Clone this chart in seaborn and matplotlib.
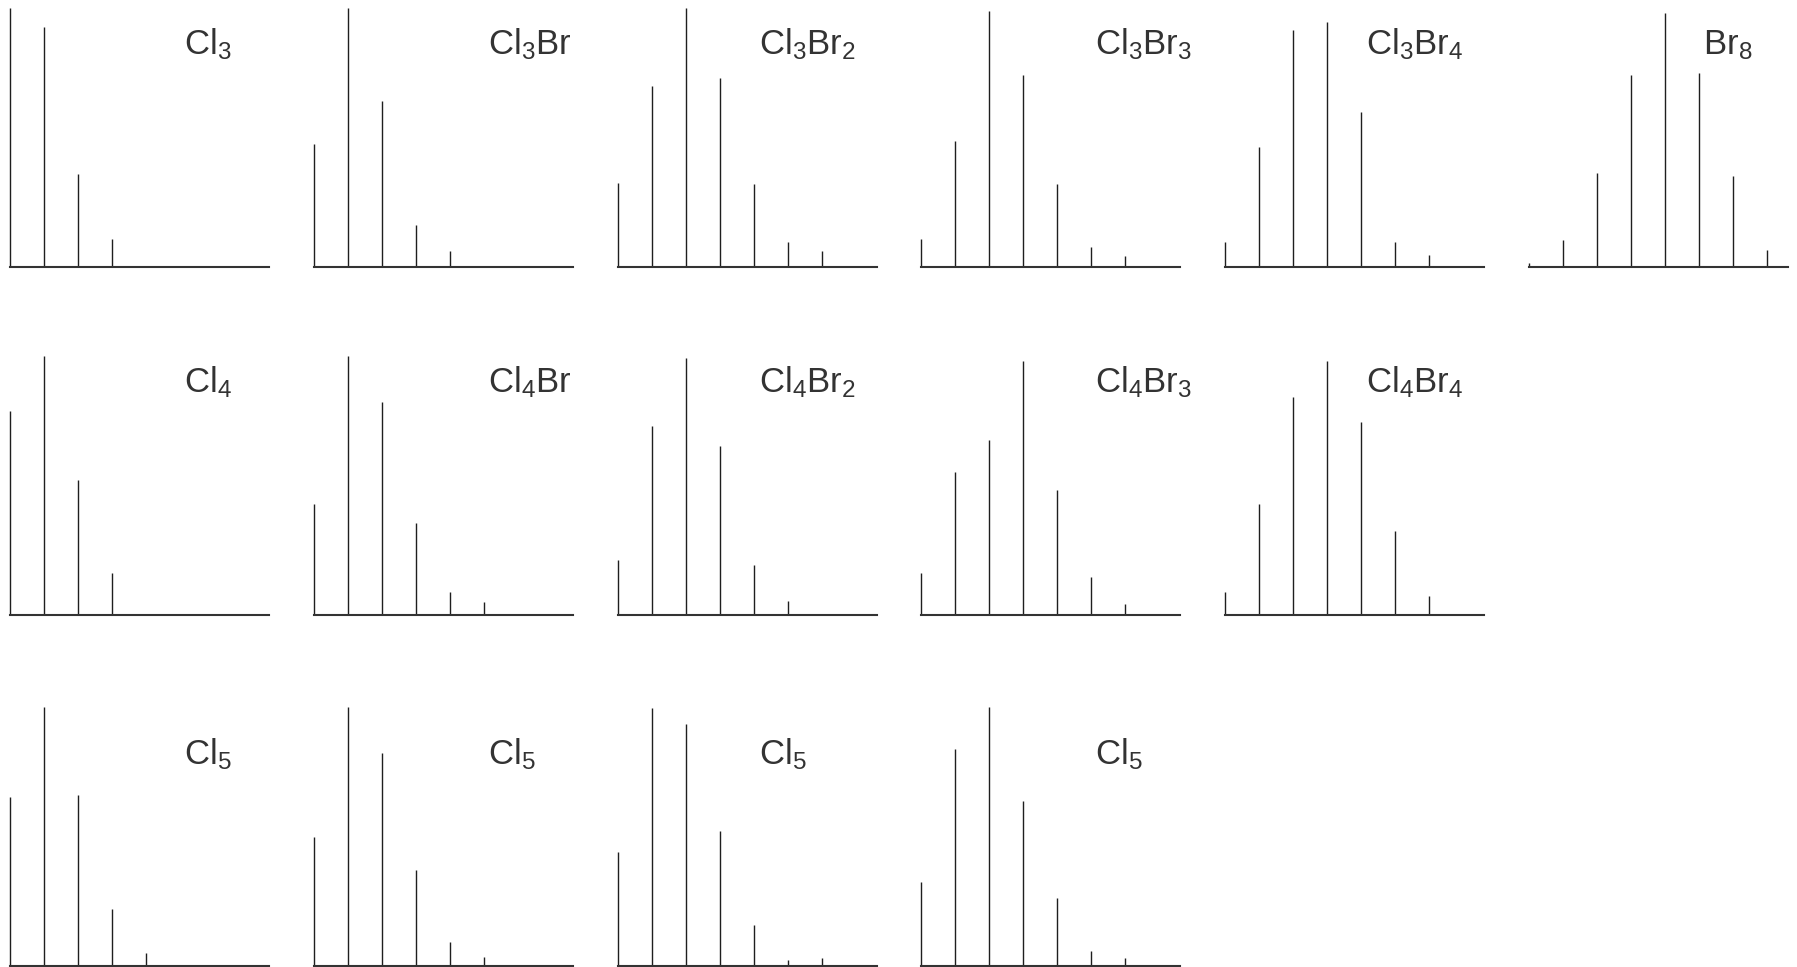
import matplotlib
matplotlib.use("Agg")
import matplotlib.pyplot as plt
import seaborn as sns

sns.set_style("white")
plt.rcParams['font.family'] = ['Liberation Sans', 'DejaVu Sans']
plt.rcParams['mathtext.fontset'] = 'custom'
plt.rcParams['mathtext.rm'] = 'Liberation Sans'
plt.rcParams['mathtext.it'] = 'Liberation Sans'
plt.rcParams['mathtext.bf'] = 'Liberation Sans'

# Relative isotope-peak intensities
cl3 = [100, 92.8, 36.0, 10.8]
cl3br = [47.6, 100, 63.9, 16.1, 6.0]
cl3br2 = [32.4, 69.8, 100, 72.9, 32.0, 9.6, 6.0]
cl3br3 = [10.8, 48.7, 98.7, 74.0, 32.0, 7.7, 4.1]
cl3br4 = [9.6, 46.5, 91.5, 94.5, 59.8, 9.6, 4.8]
br8 = [1.7, 10.3, 36.2, 74.2, 98.1, 74.8, 35.0, 6.7]

cl4 = [78.8, 100, 52.3, 16.2]
cl4br = [42.7, 100, 82.4, 35.6, 9.0, 4.9]
cl4br2 = [21.2, 72.8, 99.1, 65.1, 19.2, 5.4]
cl4br3 = [16.3, 55.4, 67.4, 98.1, 48.2, 14.5, 4.2]
cl4br4 = [9.0, 42.8, 84.2, 98.1, 74.6, 32.6, 7.2]

cl5_a = [65.4, 100, 65.9, 22.1, 5.1]
cl5_b = [49.7, 100, 82.3, 37.1, 9.4, 3.3]
cl5_c = [44.2, 99.5, 93.6, 52.1, 16.0, 2.3, 2.9]
cl5_d = [32.3, 83.8, 100, 63.6, 26.3, 5.9, 2.9]

labels = [
    [r"Cl$_3$", r"Cl$_3$Br", r"Cl$_3$Br$_2$", r"Cl$_3$Br$_3$", r"Cl$_3$Br$_4$", r"Br$_8$"],
    [r"Cl$_4$", r"Cl$_4$Br", r"Cl$_4$Br$_2$", r"Cl$_4$Br$_3$", r"Cl$_4$Br$_4$", None],
    [r"Cl$_5$", r"Cl$_5$", r"Cl$_5$", r"Cl$_5$", None, None],
]
series = [
    [cl3, cl3br, cl3br2, cl3br3, cl3br4, br8],
    [cl4, cl4br, cl4br2, cl4br3, cl4br4, None],
    [cl5_a, cl5_b, cl5_c, cl5_d, None, None],
]

W, H = 1797, 967
fig = plt.figure(figsize=(W / 100, H / 100), dpi=100)

col_left = [10, 314, 618, 921, 1225, 1529]
row_base = [267, 615, 966]
ax_w, ax_h = 259, 259
label_y = [0.82, 0.86, 0.78]
label_x = [0.673, 0.673, 0.544, 0.673, 0.544, 0.673]
ink = "#1e1e1e"

for r in range(3):
    for c in range(6):
        vals = series[r][c]
        if vals is None:
            continue
        ax = fig.add_axes([col_left[c] / W, 1 - row_base[r] / H, ax_w / W, ax_h / H])
        ax.set_facecolor("none")
        pos = list(range(len(vals)))
        ax.vlines(pos, 0, vals, color=ink, lw=1.0, clip_on=False)
        ax.set_xlim(0, 7.62)
        ax.set_ylim(0, 100)
        sns.despine(ax=ax, left=True, top=True, right=True)
        ax.spines['bottom'].set_color("#333333")
        ax.spines['bottom'].set_linewidth(1.5)
        ax.set_xticks([])
        ax.set_yticks([])
        ax.text(label_x[c], label_y[r], labels[r][c], transform=ax.transAxes,
                ha="left", va="baseline", fontsize=25, color="#333333")

fig.savefig("out.png", dpi=100)
